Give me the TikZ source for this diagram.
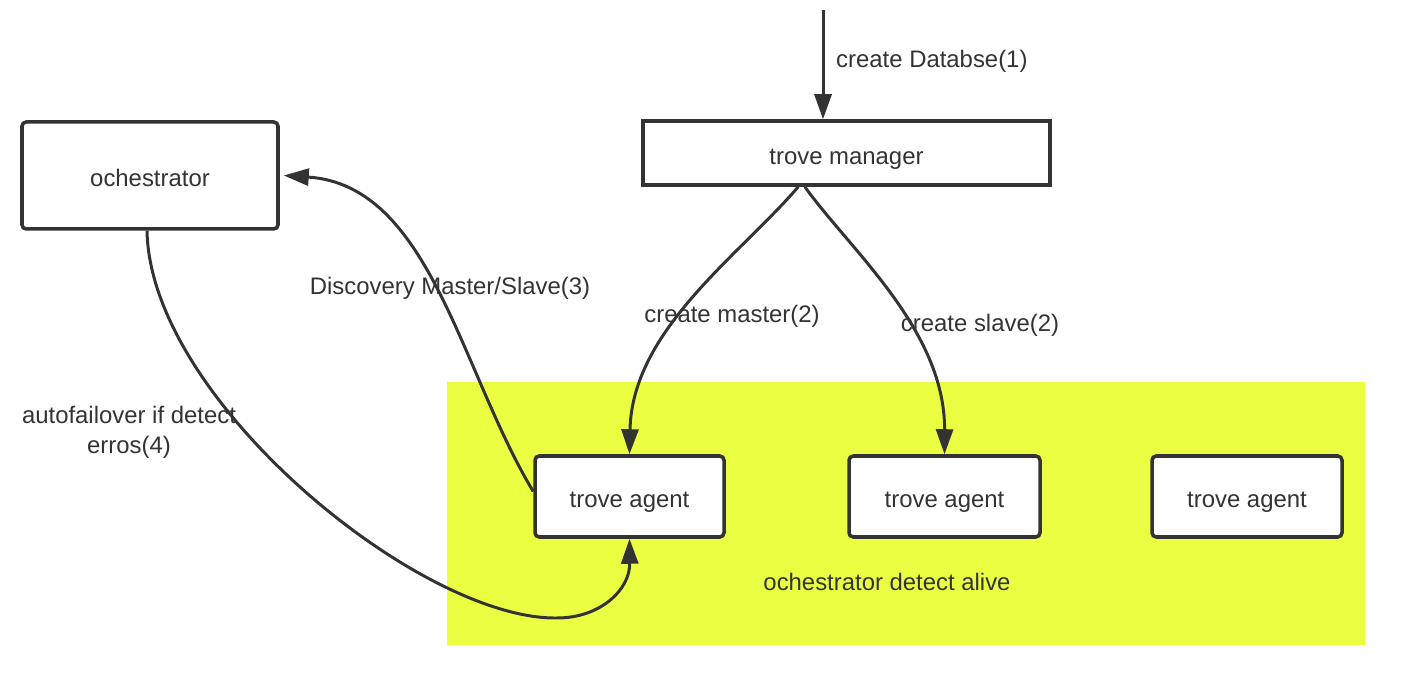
\documentclass[tikz,border=0pt]{standalone}
\usepackage{fontspec}
\setmainfont{Liberation Sans}
\usetikzlibrary{arrows.meta}
\definecolor{ink}{HTML}{333333}
\definecolor{alivezone}{RGB}{235,255,66}
\tikzset{
  lbl/.style={text=ink, font=\fontsize{6.8}{8.6}\selectfont},
  box/.style={draw=ink, line width=1pt, fill=white, rounded corners=1.2pt, lbl, text height=1.5ex, text depth=0.3ex},
  flow/.style={draw=ink, line width=0.85pt, -{Triangle[length=2.5mm,width=1.7mm]}},
}
\begin{document}
\begin{tikzpicture}
    \useasboundingbox (0,0) rectangle (14.27,-6.91);
    % area where the agents are watched
    \fill[alivezone] (4.47,-3.82) rectangle (13.65,-6.45);
    \node[lbl] (alive) at (8.87,-5.82) {ochestrator detect alive};

    \node[box, minimum width=2.56cm, minimum height=1.07cm] (orc) at (1.50,-1.755) {ochestrator};
    \node[box, rounded corners=0pt, minimum width=4.07cm, minimum height=0.64cm] (mgr) at (8.465,-1.53) {trove manager};
    \node[box, minimum width=1.89cm, minimum height=0.81cm] (a1) at (6.295,-4.965) {trove agent};
    \node[box, minimum width=1.91cm, minimum height=0.81cm] (a2) at (9.445,-4.965) {trove agent};
    \node[box, minimum width=1.90cm, minimum height=0.81cm] (a3) at (12.47,-4.965) {trove agent};

    \coordinate (req) at (8.23,-0.10);
    \draw[flow] (req) -- (req |- mgr.north) node[lbl, pos=0.47, right=0pt]{create Databse(1)};

    \draw[flow] (mgr.-145) .. controls (7.40,-2.55) and (6.32,-3.30) .. (a1.north);
    \node[lbl] (master) at (7.32,-3.16) {create master(2)};
    \draw[flow] (mgr.-141) .. controls (8.50,-2.50) and (9.45,-3.30) .. (a2.north);
    \node[lbl] (slave) at (9.80,-3.25) {create slave(2)};

    \draw[flow] ([yshift=0.05cm]a1.west) .. controls (4.60,-3.70) and (4.30,-1.85) .. ([xshift=0.04cm]orc.east);
    \node[lbl] (disc) at (4.50,-2.88) {Discovery Master/Slave(3)};

    \draw[flow] ([xshift=-0.03cm]orc.south) .. controls (1.50,-4.00) and (4.20,-6.20) .. (5.57,-6.18)
        .. controls (6.00,-6.18) and (6.30,-5.90) .. (a1.south);
    \node[lbl, align=center] (fail) at (1.29,-4.32) {autofailover if detect\\erros(4)};
\end{tikzpicture}
\end{document}
